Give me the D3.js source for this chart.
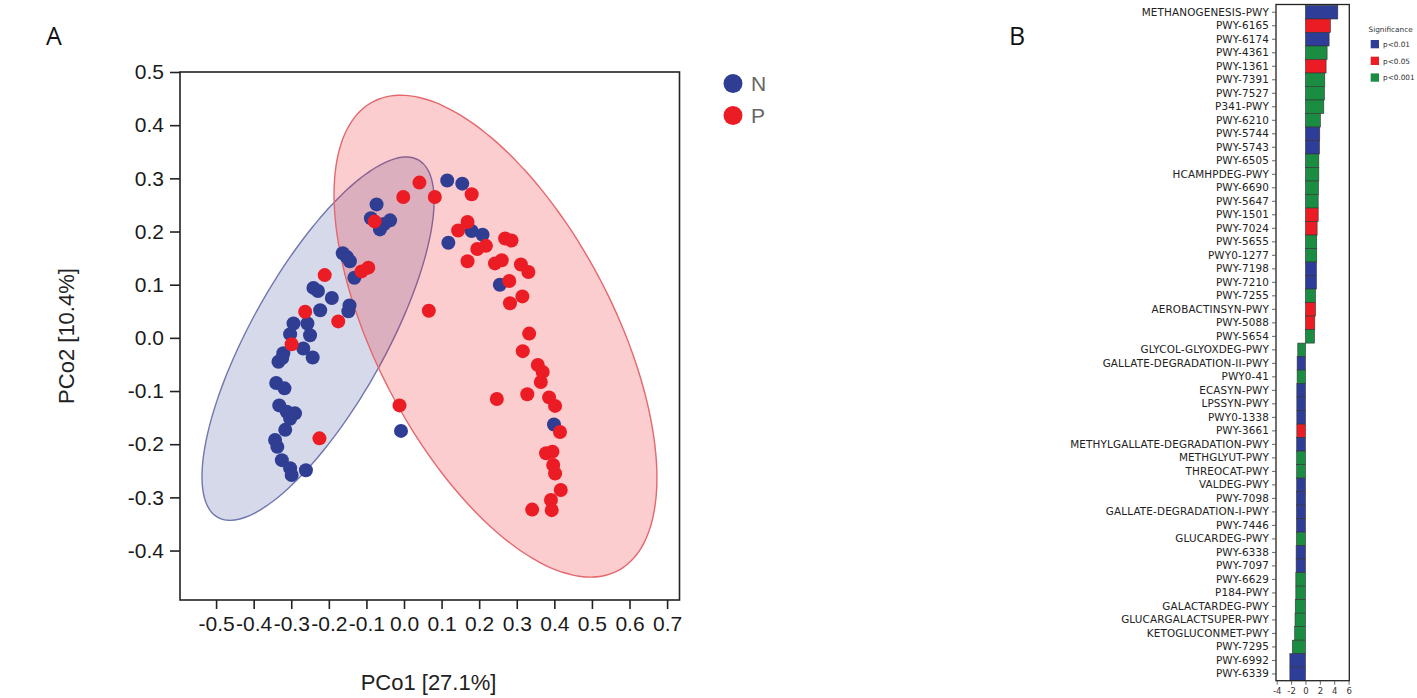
<!DOCTYPE html>
<html>
<head>
<meta charset="utf-8">
<script src="https://cdn.jsdelivr.net/npm/d3@7/dist/d3.min.js"></script>
<style>
  html, body { margin: 0; padding: 0; background: #fff; }
  svg { display: block; }
</style>
</head>
<body>
<svg id="chart" width="1417" height="698"></svg>
<script>
// ---------------- Panel A data (PCoA) ----------------
const groups = ["N", "P"];
const nPoints = [
  [0.115,0.296],[0.155,0.290],[-0.073,0.251],[-0.088,0.225],[-0.037,0.221],[-0.053,0.214],
  [-0.064,0.204],[0.180,0.201],[0.209,0.194],[0.118,0.179],[-0.163,0.159],[-0.152,0.152],
  [-0.144,0.144],[-0.132,0.113],[0.255,0.100],[-0.145,0.061],[-0.148,0.050],[-0.241,0.094],
  [-0.229,0.088],[-0.192,0.075],[-0.223,0.052],[-0.294,0.027],[-0.257,0.027],[-0.250,0.005],
  [-0.303,0.007],[-0.268,-0.020],[-0.243,-0.037],[-0.321,-0.029],[-0.334,-0.045],[-0.324,-0.038],
  [-0.340,-0.085],[-0.318,-0.095],[-0.332,-0.127],[-0.312,-0.139],[-0.290,-0.142],[-0.303,-0.152],
  [-0.316,-0.173],[-0.343,-0.192],[-0.337,-0.205],[-0.325,-0.230],[-0.303,-0.245],[-0.299,-0.258],
  [-0.261,-0.249],[-0.008,-0.175],[0.399,-0.163]
];
const pPoints = [
  [0.041,0.292],[-0.002,0.265],[0.082,0.265],[0.180,0.270],[-0.078,0.219],[0.169,0.218],
  [0.144,0.202],[0.269,0.187],[0.286,0.183],[0.218,0.173],[0.195,0.167],[0.169,0.144],
  [0.260,0.146],[0.242,0.140],[0.311,0.138],[0.331,0.124],[-0.095,0.132],[-0.113,0.125],
  [0.280,0.107],[0.315,0.078],[0.282,0.065],[0.066,0.051],[-0.211,0.118],[-0.263,0.049],
  [-0.175,0.031],[-0.299,-0.012],[-0.225,-0.189],[-0.012,-0.127],[0.333,0.008],[0.316,-0.025],
  [0.356,-0.051],[0.369,-0.064],[0.364,-0.083],[0.247,-0.115],[0.328,-0.106],[0.386,-0.112],
  [0.402,-0.128],[0.415,-0.177],[0.378,-0.217],[0.395,-0.214],[0.397,-0.239],[0.402,-0.255],
  [0.417,-0.286],[0.391,-0.305],[0.393,-0.324],[0.341,-0.323]
];
// confidence ellipses: centre and two conjugate half-axis vectors (data units)
const ellipseN = { cx: -0.2287, cy: -0.0015, u: [0.2668, 0.3361], v: [0.1554, -0.0617] };
const ellipseP = { cx: 0.2434, cy: 0.0032, u: [0.325, -0.4412], v: [-0.2808, -0.1032] };
const xExtent = [-0.596, 0.733];
const yExtent = [-0.493, 0.5];
const xTickValues = [-0.5,-0.4,-0.3,-0.2,-0.1,0.0,0.1,0.2,0.3,0.4,0.5,0.6,0.7];
const yTickValues = [-0.4,-0.3,-0.2,-0.1,0.0,0.1,0.2,0.3,0.4,0.5];
const xTitle = "PCo1 [27.1%]";
const yTitle = "PCo2 [10.4%]";

// ---------------- Panel B data (pathways) ----------------
const pathways = [
  "METHANOGENESIS-PWY","PWY-6165","PWY-6174","PWY-4361","PWY-1361","PWY-7391","PWY-7527","P341-PWY",
  "PWY-6210","PWY-5744","PWY-5743","PWY-6505","HCAMHPDEG-PWY","PWY-6690","PWY-5647","PWY-1501",
  "PWY-7024","PWY-5655","PWY0-1277","PWY-7198","PWY-7210","PWY-7255","AEROBACTINSYN-PWY","PWY-5088",
  "PWY-5654","GLYCOL-GLYOXDEG-PWY","GALLATE-DEGRADATION-II-PWY","PWY0-41","ECASYN-PWY","LPSSYN-PWY",
  "PWY0-1338","PWY-3661","METHYLGALLATE-DEGRADATION-PWY","METHGLYUT-PWY","THREOCAT-PWY","VALDEG-PWY",
  "PWY-7098","GALLATE-DEGRADATION-I-PWY","PWY-7446","GLUCARDEG-PWY","PWY-6338","PWY-7097","PWY-6629",
  "P184-PWY","GALACTARDEG-PWY","GLUCARGALACTSUPER-PWY","KETOGLUCONMET-PWY","PWY-7295","PWY-6992","PWY-6339"
];
const scores = [
  4.5,3.47,3.29,3.01,2.87,2.69,2.64,2.55,
  2.08,1.99,1.95,1.86,1.86,1.81,1.77,1.77,
  1.62,1.57,1.57,1.52,1.52,1.39,1.39,1.30,
  1.25,-1.07,-1.16,-1.16,-1.2,-1.2,
  -1.2,-1.2,-1.22,-1.22,-1.22,-1.22,
  -1.25,-1.25,-1.25,-1.25,-1.3,-1.3,-1.34,
  -1.34,-1.42,-1.45,-1.5,-1.82,-2.17,-2.17
];
const significance = [
  "p<0.01","p<0.05","p<0.01","p<0.001","p<0.05","p<0.001","p<0.001","p<0.001",
  "p<0.001","p<0.01","p<0.01","p<0.001","p<0.001","p<0.001","p<0.001","p<0.05",
  "p<0.05","p<0.001","p<0.001","p<0.01","p<0.01","p<0.001","p<0.05","p<0.05",
  "p<0.001","p<0.001","p<0.01","p<0.001","p<0.01","p<0.01",
  "p<0.01","p<0.05","p<0.01","p<0.001","p<0.001","p<0.01",
  "p<0.01","p<0.01","p<0.01","p<0.001","p<0.01","p<0.01","p<0.001",
  "p<0.001","p<0.001","p<0.001","p<0.001","p<0.001","p<0.01","p<0.01"
];
const sigLevels = ["p<0.01","p<0.05","p<0.001"];
const xTicksB = [-4,-2,0,2,4,6];
const xExtentB = [-4.1, 6.1];

// ---------------- drawing ----------------
const svg = d3.select("#chart");
svg.append("rect").attr("width",1417).attr("height",698).attr("fill","#fff");

const groupColor = d3.scaleOrdinal().domain(groups).range(["#2f3d93","#ec1c24"]);
const sigColor = d3.scaleOrdinal().domain(sigLevels).range(["#2e3e98","#ec1c24","#1b8d43"]);

// Panel A
const A = svg.append("g");
const x = d3.scaleLinear().domain(xExtent).range([180, 679.5]);
const y = d3.scaleLinear().domain(yExtent).range([600, 72]);
const fontA = "'Liberation Sans', Arial, sans-serif";

function ellipsePath(e) {
  const pts = d3.range(0, 360, 3).map(deg => {
    const t = deg * Math.PI / 180;
    return [x(e.cx + e.u[0]*Math.cos(t) + e.v[0]*Math.sin(t)),
            y(e.cy + e.u[1]*Math.cos(t) + e.v[1]*Math.sin(t))];
  });
  return d3.line().curve(d3.curveCardinalClosed)(pts);
}
A.append("path").attr("d", ellipsePath(ellipseN))
  .attr("fill","rgba(48,63,150,0.2)").attr("stroke","#6f76b0").attr("stroke-width",1.4);
A.append("path").attr("d", ellipsePath(ellipseP))
  .attr("fill","rgba(237,28,36,0.22)").attr("stroke","#e4686d").attr("stroke-width",1.4);

A.append("g").selectAll("circle").data(nPoints).join("circle")
  .attr("cx", d => x(d[0])).attr("cy", d => y(d[1])).attr("r", 7)
  .attr("fill", groupColor("N"));
A.append("g").selectAll("circle").data(pPoints).join("circle")
  .attr("cx", d => x(d[0])).attr("cy", d => y(d[1])).attr("r", 7)
  .attr("fill", groupColor("P"));

A.append("rect").attr("x", x(xExtent[0])).attr("y", y(yExtent[1]))
  .attr("width", x(xExtent[1]) - x(xExtent[0])).attr("height", y(yExtent[0]) - y(yExtent[1]))
  .attr("fill","none").attr("stroke","#222").attr("stroke-width",1.6);

const fmt = d => d.toFixed(1);
const yAxis = A.append("g").attr("transform", `translate(${x(xExtent[0])},0)`)
  .call(d3.axisLeft(y).tickValues(yTickValues).tickFormat(fmt).tickSize(10).tickSizeOuter(0).tickPadding(6));
const xAxis = A.append("g").attr("transform", `translate(0,${y(yExtent[0])})`)
  .call(d3.axisBottom(x).tickValues(xTickValues).tickFormat(fmt).tickSize(9).tickSizeOuter(0).tickPadding(7));
[yAxis, xAxis].forEach(g => {
  g.select(".domain").remove();
  g.selectAll(".tick line").attr("stroke","#222").attr("stroke-width",1.6);
  g.selectAll(".tick text").attr("font-family", fontA).attr("font-size", 21).attr("fill","#1a1a1a");
});

A.append("text").attr("x", 428.5).attr("y", 690).attr("text-anchor","middle")
  .attr("font-family", fontA).attr("font-size", 22).attr("fill","#222").text(xTitle);
A.append("text").attr("transform","translate(74,336) rotate(-90)").attr("text-anchor","middle")
  .attr("font-family", fontA).attr("font-size", 22).attr("fill","#222").text(yTitle);

const legA = A.append("g");
groups.forEach((g, i) => {
  legA.append("circle").attr("cx", 733).attr("cy", 83.5 + i*32).attr("r", 9.5).attr("fill", groupColor(g));
  legA.append("text").attr("x", 751).attr("y", 91 + i*32).attr("font-family", fontA)
    .attr("font-size", 21).attr("fill","#666").text(g);
});

svg.append("text").attr("x", 46).attr("y", 45).attr("font-family", "'Open Sans', sans-serif")
  .attr("font-size", 25).attr("fill","#111").text("A");
svg.append("text").attr("x", 1009).attr("y", 45).attr("font-family", "'Open Sans', sans-serif")
  .attr("font-size", 25).attr("fill","#111").text("B");

// Panel B
const B = svg.append("g");
const fontB = "'DejaVu Sans', sans-serif";
const xb = d3.scaleLinear().domain(xExtentB).range([1276, 1349.3]);
const yb = d3.scaleBand().domain(pathways).range([5.5, 680.7]).padding(0);

B.append("g").selectAll("rect").data(pathways).join("rect")
  .attr("x", (d,i) => xb(Math.min(0, scores[i])))
  .attr("y", d => yb(d))
  .attr("width", (d,i) => Math.abs(xb(scores[i]) - xb(0)))
  .attr("height", yb.bandwidth())
  .attr("fill", (d,i) => sigColor(significance[i]))
  .attr("stroke","#333").attr("stroke-width",0.6);

B.append("rect").attr("x", xb(xExtentB[0])).attr("y", 4.5)
  .attr("width", xb(xExtentB[1]) - xb(xExtentB[0])).attr("height", 680.7 - 4.5)
  .attr("fill","none").attr("stroke","#222").attr("stroke-width",1.3);

const yAxisB = B.append("g").attr("transform", `translate(${xb(xExtentB[0])},0)`)
  .call(d3.axisLeft(yb).tickSize(4).tickSizeOuter(0).tickPadding(3));
yAxisB.select(".domain").remove();
yAxisB.selectAll(".tick line").attr("stroke","#444").attr("stroke-width",0.8);
yAxisB.selectAll(".tick text").attr("font-family", fontB).attr("font-size", 10.4)
  .attr("fill","#222").attr("letter-spacing", 0.15);

const xAxisB = B.append("g").attr("transform", `translate(0,680.7)`)
  .call(d3.axisBottom(xb).tickValues(xTicksB).tickFormat(d => String(d)).tickSize(4).tickSizeOuter(0).tickPadding(3));
xAxisB.select(".domain").remove();
xAxisB.selectAll(".tick line").attr("stroke","#444").attr("stroke-width",0.8);
xAxisB.selectAll(".tick text").attr("font-family", fontB).attr("font-size", 8.5).attr("fill","#333");

const legB = B.append("g");
legB.append("text").attr("x", 1368.5).attr("y", 32).attr("font-family", fontB)
  .attr("font-size", 7.3).attr("fill","#333").text("Significance");
sigLevels.forEach((s, i) => {
  legB.append("rect").attr("x", 1370.7).attr("y", 40 + i*16.7).attr("width", 8.3).attr("height", 8.3)
    .attr("fill", sigColor(s));
  legB.append("text").attr("x", 1383).attr("y", 47 + i*16.7).attr("font-family", fontB)
    .attr("font-size", 7.3).attr("fill","#333").text(s);
});
</script>
</body>
</html>
